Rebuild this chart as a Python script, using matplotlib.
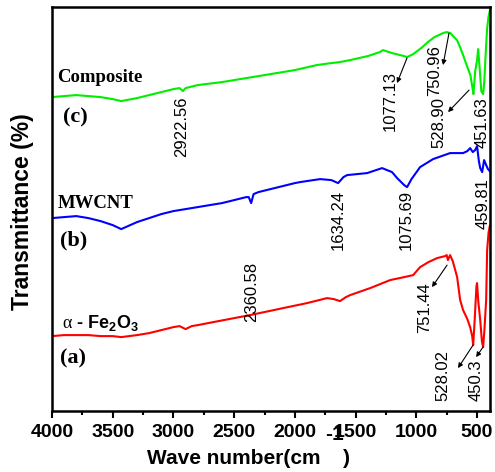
import numpy as np
import matplotlib.pyplot as plt
from matplotlib.ticker import MultipleLocator

plt.rcParams['font.family'] = ['Liberation Sans', 'DejaVu Sans']
plt.rcParams['mathtext.fontset'] = 'custom'
plt.rcParams['mathtext.rm'] = 'Liberation Serif'
plt.rcParams['mathtext.bf'] = 'Liberation Sans:bold'

# FTIR spectra, offset transmittance (a.u.)
wn_c = [4000, 3900, 3800, 3700, 3600, 3500, 3430, 3300, 3200, 3100, 3000, 2950,
        2922, 2900, 2800, 2600, 2500, 2200, 2000, 1820, 1700, 1630, 1545, 1400,
        1300, 1275, 1200, 1100, 1077, 1025, 950, 905, 850, 780, 750, 720, 690,
        665, 640, 615, 580, 555, 540, 530, 515, 500, 491, 480, 465, 450, 440,
        430, 417, 405, 395]
t_c = [314, 315, 316, 315, 314, 312, 310, 313, 316, 319, 322, 323,
       320, 323, 326, 329, 331, 337, 341, 346, 348, 349, 351, 355,
       359, 361, 358, 355, 354, 357, 364, 369, 374, 378, 379, 378, 374,
       371, 364, 356, 344, 336, 325, 317, 340, 351, 362, 345, 320, 317, 330,
       355, 383, 395, 400]

wn_b = [4000, 3900, 3800, 3700, 3600, 3500, 3430, 3300, 3200, 3100, 3000, 2900,
        2800, 2600, 2400, 2380, 2360, 2340, 2300, 2000, 1957, 1792, 1700, 1644,
        1600, 1570, 1405, 1282, 1200, 1158, 1100, 1076, 1040, 969, 862, 722,
        650, 615, 580, 557, 535, 516, 500, 485, 474, 458, 442, 425, 410, 395]
t_b = [193, 194, 195, 193, 190, 186, 182, 189, 193, 197, 200, 202,
       204, 208, 214, 214, 208, 217, 219, 228, 229, 232, 231, 228,
       234, 236, 238, 243, 239, 233, 226, 224, 232, 244, 252, 258,
       258, 258, 260, 263, 259, 261, 265, 250, 243, 239, 251, 246, 242, 240]

wn_a = [4000, 3900, 3800, 3700, 3600, 3500, 3430, 3300, 3200, 3100, 3000, 2950,
        2900, 2850, 2800, 2500, 2369, 2097, 1900, 1735, 1680, 1628, 1580, 1545,
        1380, 1216, 1100, 1026, 969, 900, 829, 763, 750, 740, 722, 700, 664,
        639, 615, 580, 557, 540, 532, 520, 505, 500, 490, 474, 460, 450, 440,
        425, 417, 405, 395]
t_a = [75, 76, 76, 76, 75, 75, 74, 76, 78, 81, 84, 85,
       82, 85, 86, 93, 96, 103, 108, 113, 112, 110, 114, 116,
       123, 131, 134, 136, 144, 149, 153, 155, 156, 151, 156, 150, 134,
       111, 101, 92, 84, 75, 66, 90, 125, 128, 110, 91, 70, 64, 80,
       111, 161, 179, 185]

# vertical peak labels: (text, x, y)
peak_labels = [("2922.56", 2929, 284), ("2360.58", 2353, 119),
               ("1634.24", 1645, 191), ("1075.69", 1085, 191),
               ("459.81", 451, 208), ("451.63", 459, 288)]
# peak labels with arrows: (text, text x, text y, tip x, tip y, tail x, tail y)
arrow_labels = [("1077.13", 1217, 310, 1159, 328, 1077, 353),
                ("750.96", 846, 341, 780, 346, 731, 378),
                ("528.90", 813, 289, 739, 299, 566, 321),
                ("751.44", 928, 103, 871, 124, 747, 146),
                ("528.02", 780, 36, 657, 43, 533, 66),
                ("450.3", 508, 31, 508, 54, 451, 64)]

fig = plt.figure(figsize=(4.95, 4.72), dpi=100)
ax = fig.add_axes([0.105, 0.129, 0.885, 0.856])

ax.plot(wn_c, t_c, color="#00ee00", lw=1.5)
ax.plot(wn_b, t_b, color="#0000ff", lw=1.5)
ax.plot(wn_a, t_a, color="#ff0000", lw=1.5)

ax.set_xlim(4000, 393)
ax.set_ylim(0, 404)
ax.xaxis.set_major_locator(MultipleLocator(500))
ax.xaxis.set_minor_locator(MultipleLocator(250))
ax.set_yticks([])
ax.tick_params(axis='x', which='major', direction='out', length=5, width=1.5,
               labelsize=14, pad=4)
ax.tick_params(axis='x', which='minor', direction='out', length=3, width=1.5)
for lab in ax.get_xticklabels():
    lab.set_fontweight('bold')
for sp in ax.spines.values():
    sp.set_linewidth(1.8)

for txt, x, y in peak_labels:
    ax.text(x, y, txt, rotation=90, ha='center', va='center', fontsize=12)
for txt, tx, ty, hx, hy, px, py in arrow_labels:
    ax.text(tx, ty, txt, rotation=90, ha='center', va='center', fontsize=12)
    ax.annotate("", xy=(hx, hy), xytext=(px, py),
                arrowprops=dict(arrowstyle='-|>', color='black', lw=0.8,
                                mutation_scale=7, shrinkA=0, shrinkB=0))

serif = 'Liberation Serif'
ax.text(3959, 334, "Composite", family=serif, fontweight='bold', fontsize=13.5,
        ha='left', va='center')
ax.text(3909, 294, "(c)", family=serif, fontweight='bold', fontsize=16,
        ha='left', va='center')
ax.text(3951, 208, "MWCNT", family=serif, fontweight='bold', fontsize=13.5,
        ha='left', va='center')
ax.text(3934, 171, "(b)", family=serif, fontweight='bold', fontsize=16,
        ha='left', va='center')
ax.text(3918, 88, r"$\mathrm{\alpha}$ - $\mathbf{Fe_2O_3}$", fontweight='bold',
        fontsize=13, ha='left', va='center')
ax.text(3934, 53, "(a)", family=serif, fontweight='bold', fontsize=16,
        ha='left', va='center')

# axis titles
fig.text(23 / 495, 1 - 212 / 472, "Transmittance (%)", rotation=90,
         ha='center', va='center', fontsize=16.5, fontweight='bold')
fig.text(147 / 495, 1 - 458 / 472, "Wave number(cm", ha='left', va='center',
         fontsize=15, fontweight='bold')
fig.text(335 / 495, 1 - 435 / 472, "-1", ha='center', va='center',
         fontsize=15, fontweight='bold')
fig.text(343 / 495, 1 - 458 / 472, ")", ha='left', va='center',
         fontsize=15, fontweight='bold')

fig.savefig("out.png", dpi=100)
plt.close(fig)
